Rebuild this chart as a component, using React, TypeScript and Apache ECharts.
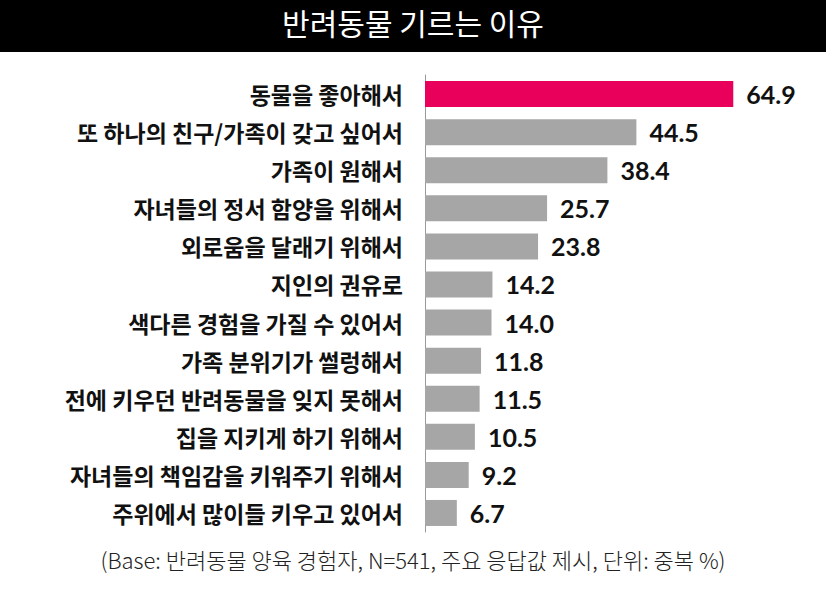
import React, { useEffect, useRef } from "react";
import * as echarts from "echarts";

const titleText = "반려동물 기르는 이유";
const footnote = "(Base: 반려동물 양육 경험자, N=541, 주요 응답값 제시, 단위: 중복 %)";
const categories = [
  "동물을 좋아해서",
  "또 하나의 친구/가족이 갖고 싶어서",
  "가족이 원해서",
  "자녀들의 정서 함양을 위해서",
  "외로움을 달래기 위해서",
  "지인의 권유로",
  "색다른 경험을 가질 수 있어서",
  "가족 분위기가 썰렁해서",
  "전에 키우던 반려동물을 잊지 못해서",
  "집을 지키게 하기 위해서",
  "자녀들의 책임감을 키워주기 위해서",
  "주위에서 많이들 키우고 있어서",
];
const values = [64.9, 44.5, 38.4, 25.7, 23.8, 14.2, 14.0, 11.8, 11.5, 10.5, 9.2, 6.7];
const highlightIndex = 0;

export default function App() {
  const ref = useRef<HTMLDivElement>(null);
  useEffect(() => {
    document.body.style.margin = "0";
    const chart = echarts.init(ref.current!, null, { renderer: "svg" });
    chart.setOption({
      animation: false,
      backgroundColor: "#ffffff",
      graphic: [
        {
          type: "rect",
          left: 0,
          top: 0,
          shape: { x: 0, y: 0, width: 826, height: 52 },
          style: { fill: "#000000" },
        },
        {
          type: "text",
          left: "center",
          top: 7,
          style: {
            text: titleText,
            fill: "#ffffff",
            font: '30px "Noto Sans CJK KR"',
          },
        },
        {
          type: "text",
          left: "center",
          top: 548,
          style: {
            text: footnote,
            fill: "#222222",
            font: '300 22px "Noto Sans CJK KR"',
          },
        },
      ],
      grid: { left: 425, top: 75, right: 21, bottom: 57, containLabel: false },
      xAxis: {
        type: "value",
        min: 0,
        max: 80,
        show: false,
      },
      yAxis: {
        type: "category",
        inverse: true,
        data: categories,
        axisLine: { show: true, lineStyle: { color: "#9a9a9a", width: 1 } },
        axisTick: { show: false },
        axisLabel: {
          margin: 22,
          color: "#111111",
          fontSize: 23,
          fontWeight: "bold",
          fontFamily: "Noto Sans CJK KR",
        },
      },
      series: [
        {
          type: "bar",
          barWidth: 26,
          data: values.map((v, i) => ({
            value: v,
            itemStyle: { color: i === highlightIndex ? "#E9005B" : "#A6A6A6" },
          })),
          label: {
            show: true,
            position: "right",
            distance: 13,
            color: "#111111",
            fontSize: 25,
            fontWeight: "bold",
            fontFamily: "Lato",
            formatter: (p: any) => p.value.toFixed(1),
          },
        },
      ],
    });
    return () => chart.dispose();
  }, []);
  return <div ref={ref} style={{ position: "absolute", left: 0, top: 0, width: 826, height: 589 }} />;
}
